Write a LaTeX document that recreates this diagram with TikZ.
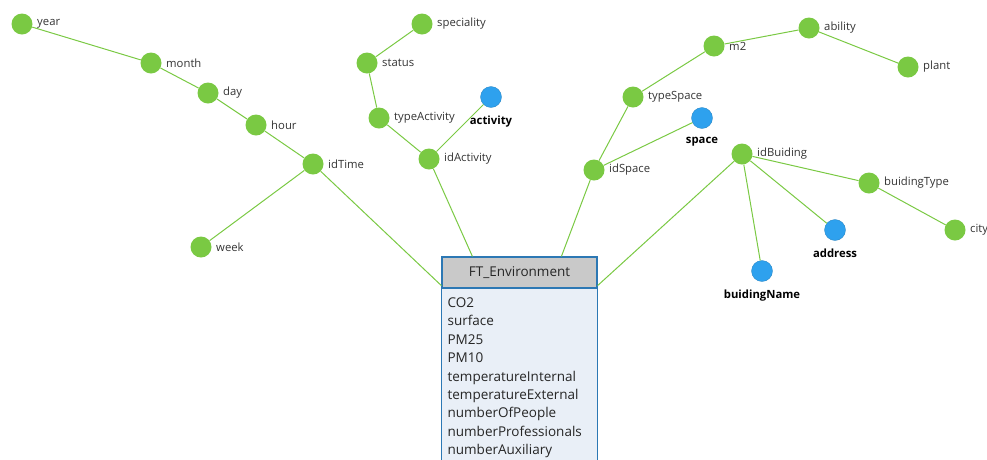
\documentclass[tikz,border=0pt]{standalone}
\usepackage{fontspec}
\setmainfont{Open Sans}
\usepackage{xcolor}
\usetikzlibrary{positioning}

\definecolor{attrGreen}{HTML}{7AC943}
\definecolor{keyBlue}{HTML}{2EA1EE}
\definecolor{factBorder}{HTML}{2C78B4}
\definecolor{factHead}{HTML}{C9C9C9}
\definecolor{factBody}{HTML}{E9EFF7}
\definecolor{labelGray}{HTML}{333333}

\begin{document}
\begin{tikzpicture}[x=1pt, y=-1pt,
  link/.style={draw=attrGreen, line width=1pt},
  attr/.style={circle, fill=attrGreen, inner sep=0pt, minimum size=21pt,
    label={[text=labelGray, font=\fontsize{11.3}{13}\selectfont, label distance=1pt]right:#1}},
  keyattr/.style={circle, fill=keyBlue, draw=keyBlue!80!black, line width=0.3pt, inner sep=0pt, minimum size=21pt,
    label={[text=black, font=\fontsize{11.3}{13}\selectfont\bfseries, label distance=5pt]below:#1}},
  facthead/.style={draw=factBorder, line width=1.2pt, fill=factHead, minimum width=155pt, minimum height=31pt,
    inner sep=0pt, font=\fontsize{13.5}{16}\selectfont, text=black!85},
  factbody/.style={text width=145pt, inner xsep=0pt, inner ysep=0pt, align=left, anchor=north west,
    font=\fontsize{13.5}{18.4}\selectfont, text=black!85}
]
\useasboundingbox (0,0) rectangle (987,459);
\clip (0,0) rectangle (987,459);

% Fact table
\node[facthead] (env) at (519.5,272.5) {FT\_Environment};
\draw[draw=factBorder, line width=1.2pt, fill=factBody] (env.south west) rectangle ([yshift=-220pt]env.south east);
\node[factbody] (envBody) at ([xshift=6pt, yshift=-9pt]env.south west) {CO2\\surface\\PM25\\PM10\\temperatureInternal\\temperatureExternal\\numberOfPeople\\numberProfessionals\\numberAuxiliary};

% Points where the links meet the table
\coordinate (envLeft) at ([yshift=3pt]env.south west);
\coordinate (envTopA) at ([xshift=31pt]env.north west);
\coordinate (envTopB) at ([xshift=120pt]env.north west);
\coordinate (envRight) at ([yshift=3pt]env.south east);

% Time dimension
\node[attr=year] (year) at (22,24) {};
\node[attr=month] (month) at (151,63) {};
\node[attr=day] (day) at (208,93) {};
\node[attr=hour] (hour) at (256,125) {};
\node[attr=idTime] (idTime) at (313,164) {};
\node[attr=week] (week) at (201,247) {};

% Activity dimension
\node[attr=speciality] (speciality) at (422,24) {};
\node[attr=status] (status) at (367,63) {};
\node[attr=typeActivity] (typeActivity) at (379,118) {};
\node[keyattr=activity] (activity) at (491,97) {};
\node[attr=idActivity] (idActivity) at (429,159) {};

% Space dimension
\node[attr=ability] (ability) at (809,28) {};
\node[attr=m2] (m2) at (714,46) {};
\node[attr=plant] (plant) at (908,67) {};
\node[attr=typeSpace] (typeSpace) at (633,97) {};
\node[keyattr=space] (space) at (702,118) {};
\node[attr=idSpace] (idSpace) at (594,170) {};

% Building dimension
\node[attr=idBuiding] (idBuiding) at (742,154) {};
\node[attr=buidingType] (buidingType) at (869,183) {};
\node[attr=city] (city) at (955,230) {};
\node[keyattr=address] (address) at (835,230) {};
\node[keyattr=buidingName] (buidingName) at (762,271) {};

% Links
\draw[link] (year) -- (month);
\draw[link] (month) -- (day);
\draw[link] (day) -- (hour);
\draw[link] (hour) -- (idTime);
\draw[link] (idTime) -- (week);
\draw[link] (idTime) -- (envLeft);
\draw[link] (speciality) -- (status);
\draw[link] (status) -- (typeActivity);
\draw[link] (typeActivity) -- (idActivity);
\draw[link] (activity) -- (idActivity);
\draw[link] (idActivity) -- (envTopA);
\draw[link] (m2) -- (ability);
\draw[link] (ability) -- (plant);
\draw[link] (typeSpace) -- (m2);
\draw[link] (typeSpace) -- (idSpace);
\draw[link] (space) -- (idSpace);
\draw[link] (idSpace) -- (envTopB);
\draw[link] (idBuiding) -- (buidingType);
\draw[link] (buidingType) -- (city);
\draw[link] (idBuiding) -- (address);
\draw[link] (idBuiding) -- (buidingName);
\draw[link] (idBuiding) -- (envRight);

\end{tikzpicture}
\end{document}
